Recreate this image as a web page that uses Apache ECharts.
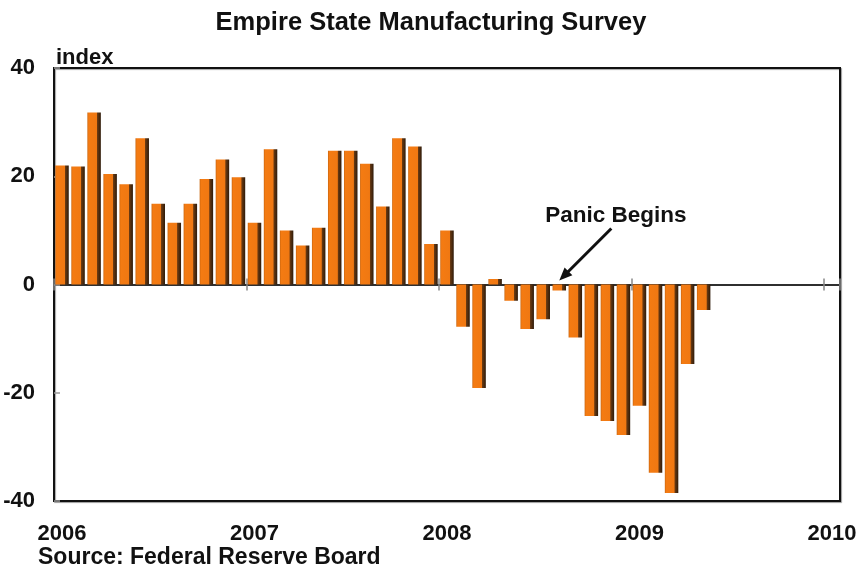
<!DOCTYPE html>
<html>
<head>
<meta charset="utf-8">
<title>Empire State Manufacturing Survey</title>
<script src="https://cdn.jsdelivr.net/npm/echarts@6/dist/echarts.min.js"></script>
<style>
  html, body { margin: 0; padding: 0; background: #fff; }
  #chart { width: 862px; height: 579px; }
</style>
</head>
<body>
<div id="chart"></div>
<script>
// Year labels shown under the axis (one every 12 months)
const years = ['2006', '2007', '2008', '2009', '2010'];

// Empire State general business conditions index, monthly
const index2006 = [22.0, 21.8, 31.8, 20.4, 18.5, 27.0, 14.9, 11.4, 14.9, 19.5, 23.1, 19.8];
const index2007 = [11.4, 25.0, 10.0, 7.2, 10.5, 24.7, 24.7, 22.3, 14.4, 27.0, 25.5, 7.5];
const index2008 = [10.0, -7.8, -19.1, 1.0, -3.0, -8.2, -6.4, -1.1, -9.8, -24.3, -25.2, -27.8];
const index2009 = [-22.4, -34.8, -38.5, -14.7, -4.7];

// Month where the annotation arrow points
const panicMonth = '2008-08';
const panicText = 'Panic Begins';

// Monthly categories from Jan 2006 through Jan 2010
const months = [];
for (let y = 0; y < years.length - 1; y++) {
  for (let m = 1; m <= 12; m++) {
    months.push(years[y] + '-' + (m < 10 ? '0' + m : '' + m));
  }
}
months.push(years[years.length - 1] + '-01');

const values = [].concat(index2006, index2007, index2008, index2009);

const FONT = '"Liberation Sans", Arial, sans-serif';

// Bar fill: orange face with a dark right-hand side to give depth
const barFill = new echarts.graphic.LinearGradient(0, 0, 1, 0, [
  { offset: 0, color: '#C9650F' },
  { offset: 0.1, color: '#F47B12' },
  { offset: 0.7, color: '#F07812' },
  { offset: 0.74, color: '#6A3A12' },
  { offset: 1, color: '#2E1B0A' }
]);

const chart = echarts.init(document.getElementById('chart'), null, { renderer: 'canvas' });

const yearTick = function (idx) { return idx % 12 === 0; };

chart.setOption({
  animation: false,
  backgroundColor: '#ffffff',
  title: [
    {
      text: 'Empire State Manufacturing Survey',
      left: 'center',
      top: 5,
      textStyle: { fontFamily: FONT, fontSize: 25.5, fontWeight: 'bold', color: '#111' }
    },
    {
      text: 'index',
      left: 51,
      top: 42,
      textStyle: { fontFamily: FONT, fontSize: 22, fontWeight: 'bold', color: '#111' }
    },
    {
      text: 'Source: Federal Reserve Board',
      left: 33,
      top: 541,
      textStyle: { fontFamily: FONT, fontSize: 23, fontWeight: 'bold', color: '#111' }
    }
  ],
  grid: {
    left: 54,
    right: 22,
    top: 68,
    bottom: 78,
    show: true,
    backgroundColor: '#ffffff',
    borderColor: '#111',
    borderWidth: 2,
    shadowColor: 'rgba(0,0,0,0.35)',
    shadowBlur: 1,
    shadowOffsetX: 1,
    shadowOffsetY: 1
  },
  xAxis: [
    {
      // year labels along the bottom of the frame
      type: 'category',
      data: months,
      position: 'bottom',
      boundaryGap: true,
      axisLine: { show: false, onZero: false },
      axisTick: { show: false },
      splitLine: { show: false },
      axisLabel: {
        interval: yearTick,
        formatter: function (v) { return v.slice(0, 4); },
        margin: 22,
        fontFamily: FONT,
        fontSize: 22,
        fontWeight: 'bold',
        color: '#111'
      }
    },
    {
      // zero line with year ticks below it
      type: 'category',
      data: months,
      position: 'bottom',
      boundaryGap: true,
      axisLine: { show: true, onZero: true, onZeroAxisIndex: 0, lineStyle: { color: '#222', width: 1.5 } },
      axisTick: { show: true, interval: yearTick, length: 6, lineStyle: { color: '#888', width: 1.5 } },
      axisLabel: { show: false },
      splitLine: { show: false }
    },
    {
      // year ticks above the zero line
      type: 'category',
      data: months,
      position: 'top',
      boundaryGap: true,
      axisLine: { show: true, onZero: true, onZeroAxisIndex: 1, lineStyle: { color: '#222', width: 1.5 } },
      axisTick: { show: true, interval: yearTick, length: 6, lineStyle: { color: '#888', width: 1.5 } },
      axisLabel: { show: false },
      splitLine: { show: false }
    }
  ],
  yAxis: [
    {
      type: 'value',
      min: -40,
      max: 40,
      interval: 20,
      axisLine: { show: true, lineStyle: { color: '#111', width: 2 } },
      axisTick: { show: true, inside: true, length: 6, lineStyle: { color: '#999', width: 1.5 } },
      splitLine: { show: false },
      axisLabel: {
        margin: 19,
        fontFamily: FONT,
        fontSize: 22,
        fontWeight: 'bold',
        color: '#111'
      }
    },
    {
      // twin scale, only used to anchor the upper year ticks at zero
      type: 'value',
      min: -40,
      max: 40,
      interval: 20,
      axisLine: { show: false },
      axisTick: { show: false },
      axisLabel: { show: false },
      splitLine: { show: false }
    }
  ],
  series: [
    {
      type: 'bar',
      xAxisIndex: 0,
      yAxisIndex: 0,
      data: values,
      barCategoryGap: '16%',
      itemStyle: { color: barFill },
      z: 1
    }
  ]
});

// Annotation arrow pointing at the month the panic begins
function drawAnnotation() {
  const p = chart.convertToPixel({ xAxisIndex: 0, yAxisIndex: 0 }, [panicMonth, 0]);
  const tip = [p[0], p[1] - 4];
  const tail = [tip[0] + 52, tip[1] - 52];
  const dx = tip[0] - tail[0], dy = tip[1] - tail[1];
  const len = Math.sqrt(dx * dx + dy * dy);
  const ux = dx / len, uy = dy / len;
  const headLen = 13, headHalf = 5.5;
  const base = [tip[0] - ux * headLen, tip[1] - uy * headLen];
  const px = -uy, py = ux;
  chart.setOption({
    graphic: [
      {
        type: 'line',
        shape: { x1: tail[0], y1: tail[1], x2: base[0] + ux * 2, y2: base[1] + uy * 2 },
        style: { stroke: '#111', lineWidth: 3 },
        z: 10
      },
      {
        type: 'polygon',
        shape: {
          points: [
            tip,
            [base[0] + px * headHalf, base[1] + py * headHalf],
            [base[0] - px * headHalf, base[1] - py * headHalf]
          ]
        },
        style: { fill: '#111' },
        z: 10
      },
      {
        type: 'text',
        x: tip[0] - 14,
        y: tip[1] - 65,
        style: {
          text: panicText,
          fontFamily: FONT,
          fontSize: 22.5,
          fontWeight: 'bold',
          fill: '#111',
          verticalAlign: 'middle'
        },
        z: 10
      }
    ]
  });
}
drawAnnotation();
</script>
</body>
</html>
